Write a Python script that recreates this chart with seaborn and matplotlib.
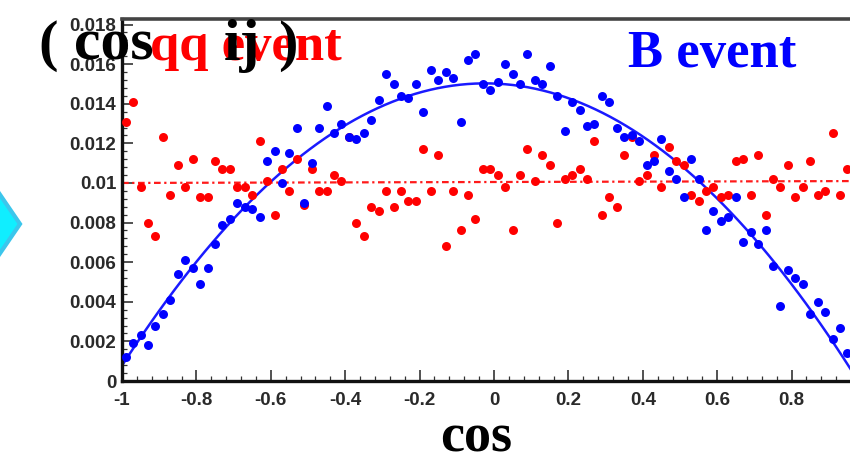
import matplotlib
matplotlib.use("Agg")
import matplotlib.pyplot as plt
import numpy as np
import pandas as pd
import seaborn as sns
from matplotlib.patches import Polygon
from matplotlib.ticker import MultipleLocator, FixedLocator, FixedFormatter

# ---------------- data ----------------
bin_centers = [
    -0.99, -0.97, -0.95, -0.93, -0.91, -0.89, -0.87, -0.85, -0.83, -0.81,
    -0.79, -0.77, -0.75, -0.73, -0.71, -0.69, -0.67, -0.65, -0.63, -0.61,
    -0.59, -0.57, -0.55, -0.53, -0.51, -0.49, -0.47, -0.45, -0.43, -0.41,
    -0.39, -0.37, -0.35, -0.33, -0.31, -0.29, -0.27, -0.25, -0.23, -0.21,
    -0.19, -0.17, -0.15, -0.13, -0.11, -0.09, -0.07, -0.05, -0.03, -0.01,
    0.01, 0.03, 0.05, 0.07, 0.09, 0.11, 0.13, 0.15, 0.17, 0.19,
    0.21, 0.23, 0.25, 0.27, 0.29, 0.31, 0.33, 0.35, 0.37, 0.39,
    0.41, 0.43, 0.45, 0.47, 0.49, 0.51, 0.53, 0.55, 0.57, 0.59,
    0.61, 0.63, 0.65, 0.67, 0.69, 0.71, 0.73, 0.75, 0.77, 0.79,
    0.81, 0.83, 0.85, 0.87, 0.89, 0.91, 0.93, 0.95,
]

b_event = [
    0.00122, 0.0019, 0.0023, 0.0018, 0.0028, 0.0034, 0.0041, 0.0054, 0.0061, 0.0057,
    0.0049, 0.0057, 0.0069, 0.0079, 0.0082, 0.0090, 0.0088, 0.0087, 0.0083, 0.0111,
    0.0116, 0.0100, 0.0115, 0.0128, 0.0090, 0.0110, 0.0128, 0.0139, 0.0125, 0.0130,
    0.0123, 0.0122, 0.0125, 0.0132, 0.0142, 0.0155, 0.0150, 0.0144, 0.0143, 0.0150,
    0.0136, 0.0157, 0.0152, 0.0156, 0.0153, 0.0131, 0.0162, 0.0165, 0.0150, 0.0147,
    0.0151, 0.0160, 0.0155, 0.0150, 0.0165, 0.0152, 0.0150, 0.0159, 0.0144, 0.0126,
    0.0141, 0.0137, 0.0129, 0.0130, 0.0144, 0.0141, 0.0128, 0.0123, 0.0124, 0.0121,
    0.0109, 0.0111, 0.0122, 0.0106, 0.0102, 0.0093, 0.0112, 0.0102, 0.0076, 0.0086,
    0.0081, 0.0083, 0.0093, 0.0070, 0.0075, 0.0069, 0.0076, 0.0058, 0.0038, 0.0056,
    0.0052, 0.0049, 0.0034, 0.0040, 0.0035, 0.0021, 0.0027, 0.0014,
]

qq_event = [
    0.0131, 0.0141, 0.0098, 0.0080, 0.0073, 0.0123, 0.0094, 0.0109, 0.0098, 0.0112,
    0.0093, 0.0093, 0.0111, 0.0107, 0.0107, 0.0098, 0.0098, 0.0094, 0.0121, 0.0101,
    0.0084, 0.0107, 0.0096, 0.0112, 0.0089, 0.0107, 0.0096, 0.0096, 0.0104, 0.0101,
    0.0123, 0.0080, 0.0073, 0.0088, 0.0086, 0.0096, 0.0088, 0.0096, 0.0091, 0.0091,
    0.0117, 0.0096, 0.0114, 0.0068, 0.0096, 0.0076, 0.0094, 0.0082, 0.0107, 0.0107,
    0.0104, 0.0098, 0.0076, 0.0104, 0.0117, 0.0101, 0.0114, 0.0109, 0.0080, 0.0102,
    0.0104, 0.0107, 0.0102, 0.0121, 0.0084, 0.0093, 0.0088, 0.0114, 0.0123, 0.0101,
    0.0104, 0.0114, 0.0098, 0.0118, 0.0111, 0.0109, 0.0094, 0.0091, 0.0096, 0.0098,
    0.0093, 0.0094, 0.0111, 0.0112, 0.0094, 0.0114, 0.0084, 0.0102, 0.0098, 0.0109,
    0.0093, 0.0098, 0.0111, 0.0094, 0.0096, 0.0125, 0.0094, 0.0107,
]

x_ticks = [-1, -0.8, -0.6, -0.4, -0.2, 0, 0.2, 0.4, 0.6, 0.8]
x_tick_labels = ["-1", "-0.8", "-0.6", "-0.4", "-0.2", "0", "0.2", "0.4", "0.6", "0.8"]
y_ticks = [0, 0.002, 0.004, 0.006, 0.008, 0.01, 0.012, 0.014, 0.016, 0.018]
y_tick_labels = ["0", "0.002", "0.004", "0.006", "0.008", "0.01", "0.012", "0.014", "0.016", "0.018"]

df = pd.DataFrame({"cos": bin_centers, "B event": b_event, "qq event": qq_event})

# ---------------- style ----------------
sns.set_theme(style="white")
plt.rcParams["font.family"] = ["Liberation Sans", "DejaVu Sans"]

W, H = 850, 458
fig = plt.figure(figsize=(W / 100, H / 100), dpi=100)
fig.patch.set_facecolor("white")
ax = fig.add_axes([122 / W, 77 / H, 744 / W, 362 / H])
ax.set_facecolor("white")
ax.set_xlim(-1, 1)
ax.set_ylim(0, 0.01828)

# fits (drawn through seaborn's regression)
sns.regplot(data=df, x="cos", y="qq event", order=1, scatter=False, ci=None,
            truncate=False, ax=ax,
            line_kws=dict(color="#ff1a1a", lw=1.6, ls=(0, (3, 1.6, 1, 1.6)), zorder=2))
sns.regplot(data=df, x="cos", y="B event", order=2, scatter=False, ci=None,
            truncate=False, ax=ax,
            line_kws=dict(color="#1a1aff", lw=1.8, zorder=2))

sns.scatterplot(data=df, x="cos", y="qq event", ax=ax, color="#ff0000", s=42,
                linewidth=0, zorder=3, legend=False)
sns.scatterplot(data=df, x="cos", y="B event", ax=ax, color="#0000ff", s=42,
                linewidth=0, zorder=4, legend=False)

ax.set_xlim(-1, 1)
ax.set_ylim(0, 0.01828)
ax.set_xlabel("")
ax.set_ylabel("")

ax.xaxis.set_major_locator(FixedLocator(x_ticks))
ax.xaxis.set_major_formatter(FixedFormatter(x_tick_labels))
ax.yaxis.set_major_locator(FixedLocator(y_ticks))
ax.yaxis.set_major_formatter(FixedFormatter(y_tick_labels))
ax.xaxis.set_minor_locator(MultipleLocator(0.04))
ax.yaxis.set_minor_locator(MultipleLocator(0.0004))

ax.tick_params(axis="both", which="major", direction="in", length=8, width=1.1,
               color="#222222", labelsize=13.5, labelcolor="#2a2a2a")
ax.tick_params(axis="both", which="minor", direction="in", length=3.8, width=0.9,
               color="#333333")
ax.tick_params(axis="both", which="both", top=False, right=False, bottom=True, left=True)
ax.tick_params(axis="x", which="major", pad=8)
ax.tick_params(axis="y", which="major", pad=4)
for lab in ax.get_xticklabels() + ax.get_yticklabels():
    lab.set_fontweight("bold")

for side in ["left", "bottom"]:
    ax.spines[side].set_color("#111111")
    ax.spines[side].set_linewidth(2.4)
ax.spines["top"].set_color("#444444")
ax.spines["top"].set_linewidth(2.6)
ax.spines["right"].set_visible(False)

# ---------------- overlaid slide texts ----------------
serif = ["Liberation Serif", "DejaVu Serif"]
def fx(px):
    return px / W
def fy(py):
    return 1 - py / H

fig.text(fx(150), fy(60), "qq event", color="#ff0000", fontsize=38,
         fontweight="bold", family=serif, va="baseline", ha="left", zorder=10)
fig.text(fx(38), fy(60), "(", color="black", fontsize=42,
         fontweight="bold", family=serif, va="baseline", ha="left", zorder=11)
fig.text(fx(74), fy(60), "cos", color="black", fontsize=43,
         fontweight="bold", family=serif, va="baseline", ha="left", zorder=11)
fig.text(fx(224), fy(60), "ij", color="black", fontsize=43,
         fontweight="bold", family=serif, va="baseline", ha="left", zorder=11)
fig.text(fx(278), fy(60), ")", color="black", fontsize=42,
         fontweight="bold", family=serif, va="baseline", ha="left", zorder=11)
fig.text(fx(628), fy(67), "B event", color="#0000ff", fontsize=38,
         fontweight="bold", family=serif, va="baseline", ha="left", zorder=10)
fig.text(fx(440), fy(452), "cos", color="black", fontsize=39,
         fontweight="bold", family=serif, va="baseline", ha="left", zorder=10)

# cyan arrow-diamond at the left edge
diamond = Polygon([(fx(20), fy(224)), (fx(-10), fy(180)), (fx(-40), fy(224)), (fx(-10), fy(268))],
                  closed=True, transform=fig.transFigure, facecolor="#10eeff",
                  edgecolor="#3cc6ec", linewidth=3, zorder=5)
fig.patches.append(diamond)

fig.savefig("out.png", dpi=100, facecolor="white")
